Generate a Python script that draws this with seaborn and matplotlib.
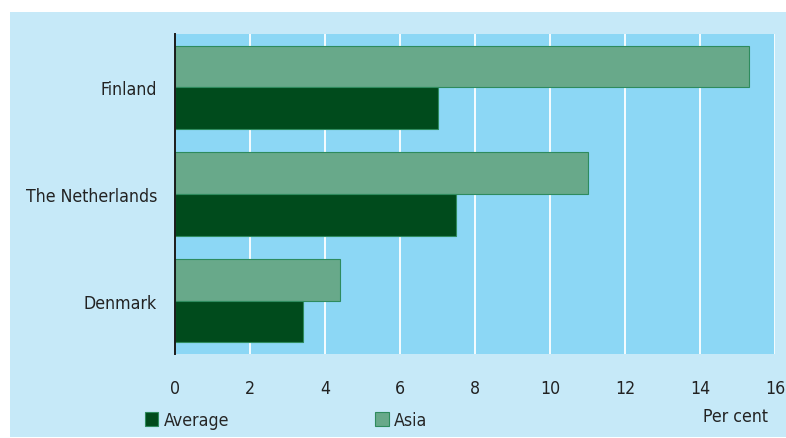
import matplotlib
matplotlib.use('Agg')
import matplotlib.pyplot as plt
from matplotlib.patches import Patch, Rectangle
import pandas as pd
import seaborn as sns

countries = ['Finland', 'The Netherlands', 'Denmark']
average = [7.0, 7.5, 3.4]
asia = [15.3, 11.0, 4.4]
x_ticks = [0, 2, 4, 6, 8, 10, 12, 14, 16]

df = pd.DataFrame({
    'country': countries * 2,
    'group': ['Asia'] * 3 + ['Average'] * 3,
    'value': asia + average,
})

sns.set_style('white')
plt.rcParams['font.family'] = ['DejaVu Sans']
plt.rcParams['font.stretch'] = 'condensed'
plt.rcParams['font.size'] = 12.7

dark_green = '#004b1c'
mid_green = '#68a98a'
panel_blue = '#c6e9f8'
plot_blue = '#8cd7f5'

fig = plt.figure(figsize=(7.86, 4.39), dpi=100)
fig.patch.set_facecolor('white')
fig.patches.append(Rectangle((10 / 786, 1 - 438 / 439), 776 / 786, 425 / 439,
                             transform=fig.transFigure, facecolor=panel_blue,
                             edgecolor='none', zorder=-5))

ax = fig.add_axes([175 / 786, 1 - 355 / 439, 600 / 786, 320 / 439])
sns.barplot(data=df, y='country', x='value', hue='group', orient='h',
            hue_order=['Asia', 'Average'], order=countries,
            palette={'Asia': mid_green, 'Average': dark_green},
            saturation=1, width=0.78, edgecolor='#2e8b5e', linewidth=0.8,
            legend=False, ax=ax)

ax.set_facecolor(plot_blue)
ax.set_xlim(0, 16)
ax.set_ylim(2.5, -0.5)
ax.set_xticks(x_ticks)
ax.set_xlabel('')
ax.set_ylabel('')
ax.grid(axis='x', color='white', linewidth=1.3)
ax.grid(axis='y', visible=False)
ax.set_axisbelow(True)
for side in ['top', 'right', 'bottom']:
    ax.spines[side].set_visible(False)
ax.spines['left'].set_color('#1a1a1a')
ax.spines['left'].set_linewidth(1.4)
ax.tick_params(axis='x', length=0, pad=18, colors='#222222')
ax.tick_params(axis='y', length=0, pad=13, colors='#222222')

handles = [Patch(facecolor=dark_green, edgecolor='#2e8b5e', linewidth=0.8),
           Patch(facecolor=mid_green, edgecolor='#2e8b5e', linewidth=0.8)]
fig.legend(handles, ['Average', 'Asia'], loc='center left',
           bbox_to_anchor=(145 / 786, 1 - 421 / 439), ncol=2, frameon=False,
           handlelength=0.75, handleheight=0.8, handletextpad=0.3,
           columnspacing=8.3, borderaxespad=0, borderpad=0)

fig.text(768 / 786, 1 - 417 / 439, 'Per cent', ha='right', va='center',
         color='#222222')

fig.savefig('out.png', dpi=100)
plt.close(fig)
